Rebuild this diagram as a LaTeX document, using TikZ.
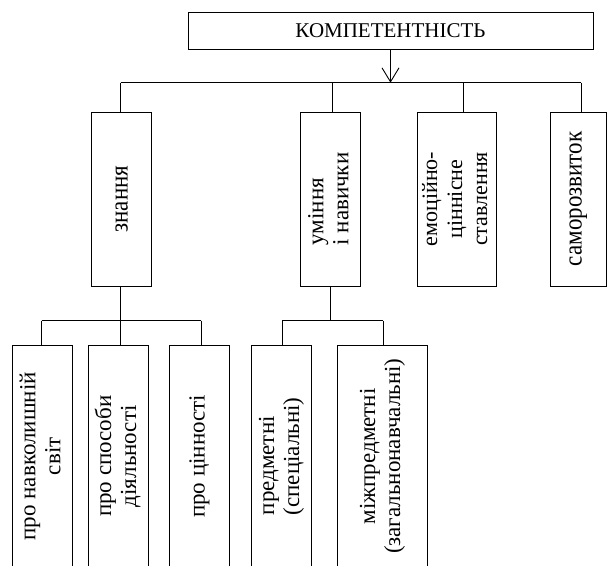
\documentclass[tikz,border=0pt]{standalone}
\usepackage{fontspec}
\setmainfont{Liberation Serif}
\usepackage{graphicx}
\usetikzlibrary{arrows.meta}
\newcommand\myvt[2]{\rotatebox{90}{\fontsize{23}{25}\selectfont\begin{tabular}{@{}#1@{}}#2\end{tabular}}}
\newcommand\myvs[1]{\rotatebox{90}{\scalebox{1}[1.12]{\fontsize{23}{25}\selectfont #1}}}
\begin{document}
\begin{tikzpicture}[x=1pt,y=-1pt,
  box/.style={draw, line width=0.9pt, inner sep=0pt, font=\fontsize{21}{24.5}\selectfont},
  conn/.style={line width=0.9pt}]
\useasboundingbox (0,0) rectangle (607,565);
\clip (0,0) rectangle (607,565);
% level 1
\node[box, minimum width=405pt, minimum height=36.5pt] (top) at (390.5,31) {КОМПЕТЕНТНІСТЬ};
% level 2
\node[box, minimum width=60pt, minimum height=174pt] (zn) at (121.7,199) {\myvs{знання}};
\node[box, minimum width=60pt, minimum height=174pt] (um) at (330.9,199) {\myvt{l}{уміння\\і навички}};
\node[box, minimum width=79pt, minimum height=174pt] (em) at (457.2,199) {\rotatebox{90}{\fontsize{22}{25}\selectfont\begin{tabular}{@{}c@{}}емоційно-\\ціннісне\\ставлення\end{tabular}}};
\node[box, minimum width=56pt, minimum height=174pt] (sa) at (578.2,199) {\myvs{саморозвиток}};
% level 3
\node[box, minimum width=60pt, minimum height=222pt] (p1) at (42.9,456.3) {\myvt{c}{про навколишній\\світ}};
\node[box, minimum width=60pt, minimum height=222pt] (p2) at (118.7,456.3) {\myvt{c}{про способи\\діяльності}};
\node[box, minimum width=60pt, minimum height=222pt] (p3) at (199.5,456.3) {\myvt{c}{про цінності}};
\node[box, minimum width=60pt, minimum height=222pt] (p4) at (281.7,456.3) {\myvt{l}{предметні\\(спеціальні)}};
\node[box, minimum width=90pt, minimum height=222pt] (p5) at (382.7,456.3) {\myvt{c}{міжпредметні\\(загальнонавчальні)}};
% bar 1
\coordinate (b1) at (120.7,82.7);
\coordinate (b2) at (332.3,82.7);
\coordinate (b3) at (463.3,82.7);
\coordinate (b4) at (581,82.7);
\draw[conn, -{Straight Barb[length=14pt,width=17pt]}] (top.south) -- (top.south |- b1);
\draw[conn] (b1) -- (b4);
\draw[conn] (b1) -- (b1 |- zn.north);
\draw[conn] (b2) -- (b2 |- um.north);
\draw[conn] (b3) -- (b3 |- em.north);
\draw[conn] (b4) -- (b4 |- sa.north);
% bar 2
\coordinate (c0) at (120.7,320.7);
\coordinate (c1) at (41.7,320.7);
\coordinate (c3) at (201.3,320.7);
\draw[conn] (c0 |- zn.south) -- (c0);
\draw[conn] (c1) -- (c3);
\draw[conn] (c1) -- (c1 |- p1.north);
\draw[conn] (c0) -- (c0 |- p2.north);
\draw[conn] (c3) -- (c3 |- p3.north);
% bar 3
\coordinate (d0) at (330,320.7);
\coordinate (d1) at (282,320.7);
\coordinate (d2) at (383.3,320.7);
\draw[conn] (d0 |- um.south) -- (d0);
\draw[conn] (d1) -- (d2);
\draw[conn] (d1) -- (d1 |- p4.north);
\draw[conn] (d2) -- (d2 |- p5.north);
\end{tikzpicture}
\end{document}
